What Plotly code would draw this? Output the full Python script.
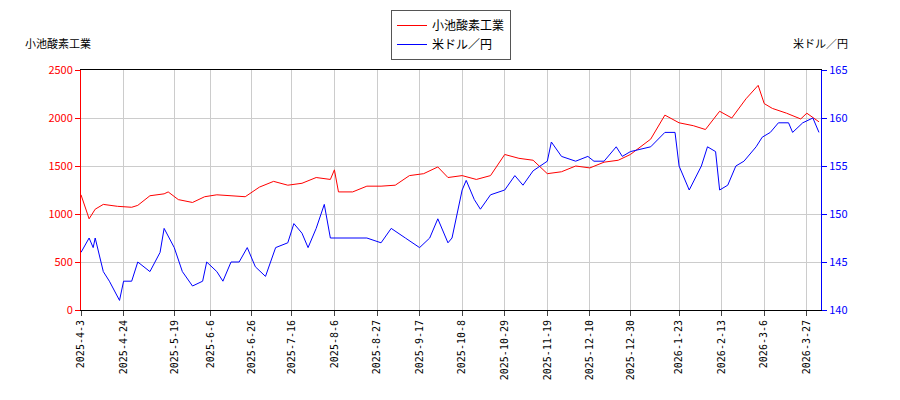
import pandas as pd
import plotly.graph_objects as go

stock_dates = ["2025-04-03","2025-04-07","2025-04-10","2025-04-14","2025-04-21","2025-04-28","2025-05-01","2025-05-07","2025-05-14","2025-05-16","2025-05-21","2025-05-28","2025-06-03","2025-06-09","2025-06-16","2025-06-23","2025-06-30","2025-07-07","2025-07-14","2025-07-21","2025-07-28","2025-08-04","2025-08-06","2025-08-08","2025-08-15","2025-08-22","2025-08-29","2025-09-05","2025-09-12","2025-09-19","2025-09-26","2025-10-01","2025-10-08","2025-10-15","2025-10-22","2025-10-29","2025-11-05","2025-11-12","2025-11-19","2025-11-26","2025-12-03","2025-12-10","2025-12-17","2025-12-24","2025-12-30","2026-01-09","2026-01-16","2026-01-23","2026-01-30","2026-02-05","2026-02-12","2026-02-18","2026-02-25","2026-03-03","2026-03-06","2026-03-10","2026-03-17","2026-03-24","2026-03-27","2026-04-02"]
stock = [1200,950,1050,1100,1080,1070,1090,1190,1210,1230,1150,1120,1180,1200,1190,1180,1280,1340,1300,1320,1380,1360,1460,1230,1230,1290,1290,1300,1400,1420,1490,1380,1400,1360,1400,1620,1580,1560,1420,1440,1500,1480,1540,1560,1620,1780,2030,1950,1920,1880,2070,2000,2200,2340,2150,2100,2050,1990,2050,1960]

fx_dates = ["2025-04-03","2025-04-07","2025-04-09","2025-04-10","2025-04-14","2025-04-17","2025-04-22","2025-04-24","2025-04-28","2025-05-01","2025-05-07","2025-05-12","2025-05-14","2025-05-19","2025-05-23","2025-05-28","2025-06-02","2025-06-04","2025-06-09","2025-06-12","2025-06-16","2025-06-20","2025-06-24","2025-06-28","2025-07-03","2025-07-08","2025-07-14","2025-07-17","2025-07-21","2025-07-24","2025-07-28","2025-08-01","2025-08-04","2025-08-08","2025-08-15","2025-08-22","2025-08-29","2025-09-03","2025-09-10","2025-09-17","2025-09-22","2025-09-26","2025-10-01","2025-10-03","2025-10-08","2025-10-10","2025-10-14","2025-10-17","2025-10-22","2025-10-29","2025-11-03","2025-11-07","2025-11-12","2025-11-19","2025-11-21","2025-11-26","2025-12-03","2025-12-09","2025-12-12","2025-12-17","2025-12-23","2025-12-26","2025-12-30","2026-01-09","2026-01-16","2026-01-21","2026-01-23","2026-01-28","2026-02-03","2026-02-06","2026-02-10","2026-02-12","2026-02-16","2026-02-20","2026-02-24","2026-03-02","2026-03-05","2026-03-09","2026-03-13","2026-03-18","2026-03-20","2026-03-25","2026-03-30","2026-04-02"]
fx = [146,147.5,146.5,147.5,144,143,141,143,143,145,144,146,148.5,146.5,144,142.5,143,145,144,143,145,145,146.5,144.5,143.5,146.5,147,149,148,146.5,148.5,151,147.5,147.5,147.5,147.5,147,148.5,147.5,146.5,147.5,149.5,147,147.5,152.5,153.5,151.5,150.5,152,152.5,154,153,154.5,155.5,157.5,156,155.5,156,155.5,155.5,157,156,156.5,157,158.5,158.5,155,152.5,155,157,156.5,152.5,153,155,155.5,157,158,158.5,159.5,159.5,158.5,159.5,160,158.5]

tick_labels = ["2025-4-3","2025-4-24","2025-5-19","2025-6-6","2025-6-26","2025-7-16","2025-8-6","2025-8-27","2025-9-17","2025-10-8","2025-10-29","2025-11-19","2025-12-10","2025-12-30","2026-1-23","2026-2-13","2026-3-6","2026-3-27"]
tick_dates = pd.to_datetime(tick_labels)

fig = go.Figure()
fig.add_trace(go.Scatter(x=pd.to_datetime(stock_dates), y=stock, name="小池酸素工業",
                         line=dict(color="red", width=1)))
fig.add_trace(go.Scatter(x=pd.to_datetime(fx_dates), y=fx, name="米ドル／円", yaxis="y2",
                         line=dict(color="blue", width=1)))

fig.update_layout(
    width=900, height=400, margin=dict(l=73, r=87, t=62, b=98, autoexpand=False),
    plot_bgcolor="white", paper_bgcolor="white",
    font=dict(family="Noto Sans CJK JP", size=11, color="black"),
    legend=dict(x=0.5, y=1.25, xanchor="center", yanchor="top", bordercolor="#555",
                borderwidth=1, font=dict(size=12)),
    xaxis=dict(range=["2025-04-03", "2026-04-03"], tickvals=tick_dates, ticktext=tick_labels,
               tickangle=-90, showgrid=True, gridcolor="#ccc", linecolor="black",
               ticks="outside", tickfont=dict(family="DejaVu Sans Mono", size=10), mirror=True),
    yaxis=dict(range=[0, 2500], dtick=500, showgrid=True, gridcolor="#ccc",
               linecolor="red", ticks="outside", tickcolor="red", tickfont=dict(color="red")),
    yaxis2=dict(range=[140, 165], dtick=5, overlaying="y", side="right", showgrid=False,
                linecolor="blue", ticks="outside", tickcolor="blue", tickfont=dict(color="blue")),
    annotations=[
        dict(text="小池酸素工業", x=0, y=1.07, xref="paper", yref="paper", xanchor="right",
             yanchor="bottom", showarrow=False, xshift=12),
        dict(text="米ドル／円", x=1, y=1.07, xref="paper", yref="paper", xanchor="left",
             yanchor="bottom", showarrow=False, xshift=-30),
    ],
)
fig.write_html("out.html")
